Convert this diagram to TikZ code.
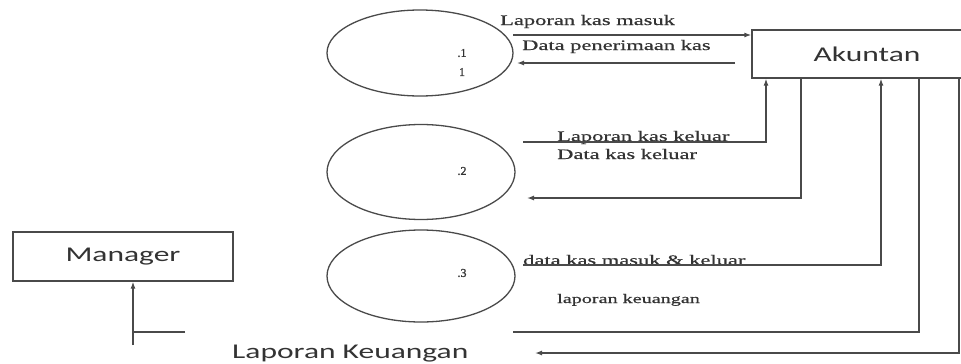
\documentclass[tikz,border=0pt]{standalone}
\usepackage{fontspec}
\setmainfont{Liberation Serif}
\newfontfamily\flowfont{Liberation Serif}[FakeStretch=1.55,FakeBold=0.6]
\newfontfamily\numfont{Liberation Serif}[FakeBold=1]
\newfontfamily\entfont{Carlito}[FakeStretch=1.5]
\usetikzlibrary{arrows.meta,shapes.geometric}
\definecolor{ink}{HTML}{4A4A4A}
\definecolor{txt}{HTML}{333333}
\tikzset{
  ent/.style={draw=ink, line width=1.3pt, rectangle, inner sep=0pt, font=\entfont\fontsize{21}{24}\selectfont, text=txt},
  proc/.style={draw=ink, line width=1.3pt, ellipse, inner sep=0pt},
  num/.style={font=\numfont\fontsize{12}{14}\selectfont, text=txt, inner sep=0pt},
  flow/.style={font=\flowfont\fontsize{14.5}{16}\selectfont, text=txt, anchor=base west, inner sep=0pt},
  conn/.style={draw=ink, line width=1.3pt},
  arr/.style={conn, -{Latex[length=7pt,width=5pt]}}
}

\begin{document}
\begin{tikzpicture}[x=1pt,y=-1pt]
\useasboundingbox (0,0) rectangle (961,364);
% proses
\node[proc, minimum width=186pt, minimum height=86pt] (p1) at (420,53) {};
\node[proc, minimum width=188pt, minimum height=95pt] (p2) at (421,172) {};
\node[proc, minimum width=188pt, minimum height=92pt] (p3) at (421,276) {};
\node[num] (n1) at (462,53) {.1};
\node[num] (n1b) at (462,72) {1};
\node[num] (n2) at (462,171) {.2};
\node[num] (n3) at (462,273) {.3};
% entitas
\node[ent, minimum width=230pt, minimum height=48pt] (akuntan) at (867,54) {Akuntan};
\node[ent, minimum width=220pt, minimum height=49pt] (manager) at (123,256.5) {Manager};
% label aliran
\node[flow] (lkm) at (500,25) {Laporan kas masuk};
\node[flow] (dpk) at (522,50) {Data penerimaan kas};
\node[flow] (lkk) at (557,141) {Laporan kas keluar};
\node[flow] (dkk) at (557,159) {Data kas keluar};
\node[flow] (dkmk) at (523,265) {data kas masuk \& keluar};
\node[flow, font=\flowfont\fontsize{13}{15}\selectfont] (lku) at (557,303) {laporan keuangan};
\node[font=\entfont\fontsize{21}{24}\selectfont, text=txt, anchor=base west, inner sep=0pt] (lkeu) at (232,358) {Laporan Keuangan};
% titik aliran
\coordinate (a1) at (513,35);
\coordinate (a2) at (735,63);
\coordinate (a2e) at (517,63);
\coordinate (b0) at (523,142);
\coordinate (b1) at (766,142);
\coordinate (c1) at (801,198);
\coordinate (c2) at (527,198);
\coordinate (d0) at (523,265);
\coordinate (d1) at (881,265);
\coordinate (e1) at (919,332);
\coordinate (e2) at (513,332);
\coordinate (e3) at (185,332);
\coordinate (e4) at (133,332);
\coordinate (e5) at (133,345);
\coordinate (f1) at (959,353);
\coordinate (f2) at (535,353);
% aliran
\draw[arr] (a1) -- (a1 -| akuntan.west);
\draw[arr] (a2) -- (a2e);
\draw[arr] (b0) -- (b1) -- (b1 |- akuntan.south);
\draw[arr] (c1 |- akuntan.south) -- (c1) -- (c2);
\draw[arr] (d0) -- (d1) -- (d1 |- akuntan.south);
\draw[conn] (e1 |- akuntan.south) -- (e1) -- (e2);
\draw[conn] (e3) -- (e4);
\draw[arr] (e5) -- (e5 |- manager.south);
\draw[arr] (f1 |- akuntan.south) -- (f1) -- (f2);
\end{tikzpicture}
\end{document}
